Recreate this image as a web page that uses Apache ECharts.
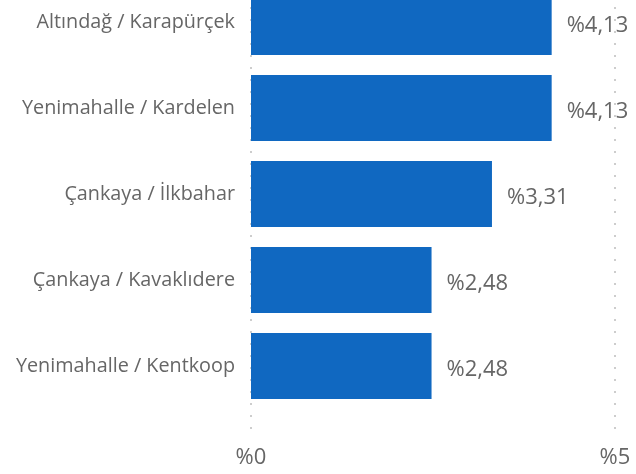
<!DOCTYPE html>
<html>
<head>
<meta charset="utf-8">
<script src="https://cdn.jsdelivr.net/npm/echarts@6/dist/echarts.min.js"></script>
<style>
  html, body { margin: 0; padding: 0; background: #fff; }
  #chart { width: 636px; height: 474px; }
</style>
</head>
<body>
<div id="chart"></div>
<script>
var categories = ['Altındağ / Karapürçek', 'Yenimahalle / Kardelen', 'Çankaya / İlkbahar', 'Çankaya / Kavaklıdere', 'Yenimahalle / Kentkoop'];
var values = [4.13, 4.13, 3.31, 2.48, 2.48];
var xTicks = [0, 5];

var font = '"Open Sans", "Noto Sans", sans-serif';

function pct(v) {
  return '%' + String(v).replace('.', ',');
}

var chart = echarts.init(document.getElementById('chart'), null, { renderer: 'canvas' });

var option = {
  animation: false,
  grid: [
    // bars (top band is cut off by the frame)
    { left: 251, right: 21, top: -21, height: 430, outerBoundsMode: 'none', containLabel: false },
    // dotted grid lines + x labels
    { left: 251, right: 21, top: -5, bottom: 37, outerBoundsMode: 'none', containLabel: false }
  ],
  xAxis: [
    {
      gridIndex: 0,
      type: 'value',
      min: xTicks[0],
      max: xTicks[1],
      interval: 5,
      show: false
    },
    {
      gridIndex: 1,
      type: 'value',
      min: xTicks[0],
      max: xTicks[1],
      interval: 5,
      axisLine: { show: false },
      axisTick: { show: false },
      axisLabel: {
        formatter: function(v) { return '%' + v; },
        color: '#666',
        fontFamily: font,
        fontSize: 22,
        margin: 10
      },
      splitLine: {
        show: true,
        lineStyle: { color: '#bdbdbd', width: 1.5, type: [2, 10] }
      }
    }
  ],
  yAxis: [
    {
      gridIndex: 0,
      type: 'category',
      inverse: true,
      data: categories,
      axisLine: { show: false },
      axisTick: { show: false },
      axisLabel: {
        color: '#666',
        fontFamily: font,
        fontSize: 19.8,
        margin: 16,
        padding: [6, 0, 0, 0]
      }
    },
    {
      gridIndex: 1,
      type: 'value',
      show: false
    }
  ],
  series: [
    {
      type: 'bar',
      xAxisIndex: 0,
      yAxisIndex: 0,
      data: values,
      barCategoryGap: '23%',
      itemStyle: { color: '#1068c1' },
      label: {
        show: true,
        position: 'right',
        distance: 15,
        offset: [0, 4],
        formatter: function(p) { return pct(p.value); },
        color: '#666',
        fontFamily: font,
        fontSize: 22
      }
    }
  ]
};

chart.setOption(option);
</script>
</body>
</html>
